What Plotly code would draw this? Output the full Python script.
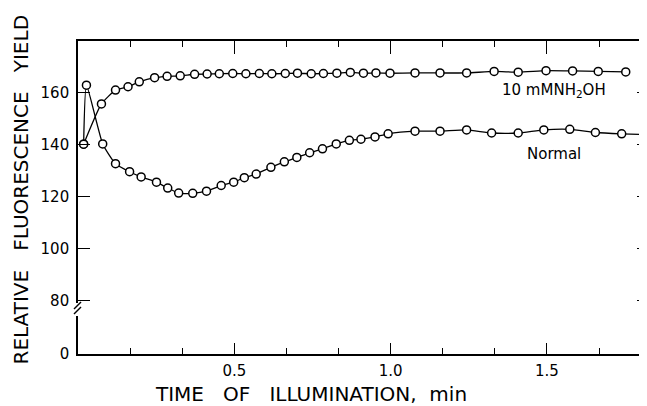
import plotly.graph_objects as go

# ---- data ----
nh2oh_t = [0.018, 0.075, 0.120, 0.160, 0.196, 0.245, 0.285, 0.327, 0.373, 0.413,
           0.452, 0.495, 0.537, 0.580, 0.620, 0.663, 0.702, 0.746, 0.785, 0.828,
           0.871, 0.913, 0.953, 0.998, 1.078, 1.158, 1.243, 1.331, 1.408, 1.497,
           1.582, 1.664, 1.752]
nh2oh_y = [140.3, 155.8, 161.1, 162.4, 164.3, 165.9, 166.4, 166.6, 167.2, 167.3,
           167.4, 167.5, 167.4, 167.5, 167.4, 167.5, 167.6, 167.4, 167.5, 167.6,
           167.9, 167.6, 167.7, 167.6, 167.7, 167.7, 167.7, 168.3, 168.0, 168.6,
           168.5, 168.3, 168.1]

normal_t = [0.018, 0.027, 0.079, 0.120, 0.165, 0.202, 0.251, 0.287, 0.322, 0.367,
            0.411, 0.458, 0.498, 0.532, 0.570, 0.617, 0.660, 0.700, 0.741, 0.782,
            0.826, 0.868, 0.905, 0.950, 0.992, 1.078, 1.158, 1.243, 1.323, 1.408,
            1.490, 1.573, 1.655, 1.739, 1.822]
normal_y = [140.3, 163.0, 140.4, 132.8, 129.7, 127.7, 125.7, 123.4, 121.5, 121.4,
            122.2, 124.4, 125.7, 127.4, 128.8, 131.4, 133.5, 135.2, 137.0, 138.5,
            140.4, 141.8, 142.2, 143.1, 144.3, 145.3, 145.3, 145.8, 144.6, 144.6,
            145.8, 146.0, 144.8, 144.3, 144.0]

y_ticks_upper = [80, 100, 120, 140, 160]
y_ticks_lower = [0]
x_ticks = [0.5, 1.0, 1.5]
x_tick_labels = ["0.5", "1.0", "1.5"]

series_labels = ["10 mMNH<sub>2</sub>OH", "Normal"]
NB = "\u00a0"
x_title = f"TIME{NB*3}OF{NB*3}ILLUMINATION,{NB*2}min"
y_title = f"RELATIVE{NB*3}FLUORESCENCE{NB*3}YIELD"

FONT = "DejaVu Sans"
INK = "black"

fig = go.Figure()
for t, y in [(nh2oh_t, nh2oh_y), (normal_t, normal_y)]:
    fig.add_trace(go.Scatter(
        x=t, y=y, mode="lines+markers", xaxis="x", yaxis="y",
        line=dict(color=INK, width=1.3, shape="spline", smoothing=0.5),
        marker=dict(symbol="circle", size=8, color="white",
                    line=dict(color=INK, width=1.5)),
        showlegend=False, hoverinfo="skip"))

# empty helper traces so that every axis is drawn
for xa, ya in [("x", "y2"), ("x2", "y"), ("x", "y3")]:
    fig.add_trace(go.Scatter(x=[], y=[], xaxis=xa, yaxis=ya, mode="markers",
                             showlegend=False, hoverinfo="skip"))

common_x = dict(range=[0, 1.82], showgrid=False, zeroline=False,
                showline=True, linecolor=INK, linewidth=1.6,
                tickmode="array", tickvals=x_ticks, ticktext=x_tick_labels,
                ticks="inside", tickcolor=INK, tickwidth=1.3,
                minor=dict(tickmode="linear", tick0=0, dtick=1/6,
                           ticks="inside", ticklen=6, tickcolor=INK, tickwidth=1.3))

fig.update_layout(
    width=639, height=398,
    margin=dict(l=70, r=0, t=33, b=52),
    paper_bgcolor="white", plot_bgcolor="white",
    font=dict(family=FONT, color=INK, size=15),
    xaxis=dict(**common_x, anchor="y2", ticklen=11,
               tickfont=dict(size=15, family=FONT), ticklabelstandoff=2),
    xaxis2=dict(**common_x, anchor="y", side="top", overlaying="x",
                ticklen=13, showticklabels=False),
    yaxis=dict(domain=[0.163, 1], range=[79.2, 180], anchor="x",
               showgrid=False, zeroline=False, showline=True, linecolor=INK,
               linewidth=1.6, tickmode="array", tickvals=y_ticks_upper,
               ticks="inside", ticklen=12, tickcolor=INK, tickwidth=1.3,
               tickfont=dict(size=15, family=FONT), ticklabelstandoff=4),
    yaxis2=dict(domain=[0, 0.1214], range=[0, 10], anchor="x",
                showgrid=False, zeroline=False, showline=True, linecolor=INK,
                linewidth=1.6, tickmode="array", tickvals=y_ticks_lower,
                ticks="inside", ticklen=12, tickcolor=INK, tickwidth=1.3,
                tickfont=dict(size=15, family=FONT), ticklabelstandoff=4),
    yaxis3=dict(range=[79.2, 180], overlaying="y", side="right", anchor="x",
                showgrid=False, zeroline=False, showline=False,
                tickmode="array", tickvals=y_ticks_upper, showticklabels=False,
                ticks="inside", ticklen=10, tickcolor=INK, tickwidth=1.3),
)

# axis-break marks on the left axis
for dy in (0, 5):
    fig.add_shape(type="line", xref="paper", yref="paper",
                  xsizemode="pixel", ysizemode="pixel", xanchor=0, yanchor=0,
                  x0=-4, x1=3, y0=40 + dy, y1=47 + dy,
                  line=dict(color=INK, width=1.4))

fig.add_annotation(text=series_labels[0], x=1.523, y=160.8, xref="x", yref="y",
                   showarrow=False, font=dict(size=15, family=FONT))
fig.add_annotation(text=series_labels[1], x=1.523, y=136.5, xref="x", yref="y",
                   showarrow=False, font=dict(size=15, family=FONT))
fig.add_annotation(text=x_title, xref="paper", yref="paper", x=0.4095, y=-0.128,
                   xanchor="center", yanchor="middle", showarrow=False,
                   font=dict(size=20, family=FONT))
fig.add_annotation(text=y_title, xref="paper", yref="paper", x=-0.101, y=0.524,
                   xanchor="center", yanchor="middle", textangle=-90,
                   showarrow=False, font=dict(size=20, family=FONT))

fig.write_html("out.html")
